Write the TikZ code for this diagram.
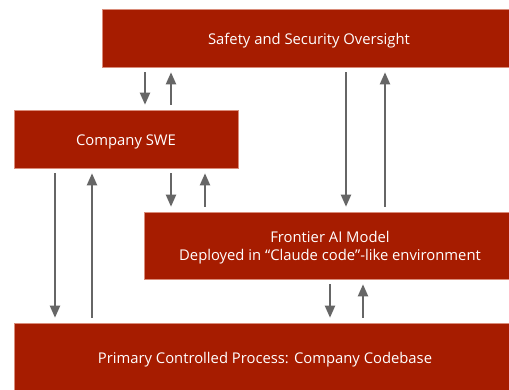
\documentclass[tikz,border=0pt]{standalone}
\usepackage{fontspec}
\setmainfont{Open Sans}
\usetikzlibrary{arrows.meta}
\definecolor{boxred}{HTML}{A61C00}
\definecolor{boxedge}{HTML}{D98C7A}
\definecolor{arrgray}{HTML}{666666}
\begin{document}
\begin{tikzpicture}[x=1pt,y=-1pt,
  box/.style={rectangle, fill=boxred, draw=boxedge, line width=0.6pt, inner sep=0pt},
  txt/.style={text=white, font=\fontsize{14.8}{18}\selectfont, align=center, inner sep=0pt},
  arr/.style={draw=arrgray, line width=2pt, -{Triangle[width=10pt,length=12pt]}, shorten >=5pt, shorten <=5pt}]
\useasboundingbox (0,0) rectangle (509,389);
\node[box, minimum width=414pt, minimum height=58pt] (safety) at (309,38) {};
\node[box, minimum width=224pt, minimum height=58pt] (swe) at (126,139) {};
\node[box, minimum width=372pt, minimum height=67pt] (frontier) at (330,245.5) {};
\node[box, minimum width=502pt, minimum height=68pt] (primary) at (265,357) {};
\node[txt] (safetyT) at ([yshift=-2.5pt]safety.center) {Safety and Security Oversight};
\node[txt] (sweT) at ([yshift=-2.5pt]swe.center) {Company SWE};
\node[txt] (frontierT) at ([yshift=-2.5pt]frontier.center) {Frontier AI Model\\Deployed in “Claude code”-like environment};
\node[txt] (primaryT) at ([yshift=-2.5pt]primary.center) {Primary Controlled Process: Company Codebase};
\coordinate (xa) at (145,0);
\coordinate (xb) at (171,0);
\coordinate (xc) at (346,0);
\coordinate (xd) at (385,0);
\coordinate (xe) at (205,0);
\coordinate (xf) at (55,0);
\coordinate (xg) at (92,0);
\coordinate (xh) at (330,0);
\coordinate (xi) at (363,0);
\draw[arr] (safety.south -| xa) -- (swe.north -| xa);
\draw[arr] (swe.north -| xb) -- (safety.south -| xb);
\draw[arr] (safety.south -| xc) -- (frontier.north -| xc);
\draw[arr] (frontier.north -| xd) -- (safety.south -| xd);
\draw[arr] (swe.south -| xb) -- (frontier.north -| xb);
\draw[arr] (frontier.north -| xe) -- (swe.south -| xe);
\draw[arr] (swe.south -| xf) -- (primary.north -| xf);
\draw[arr] (primary.north -| xg) -- (swe.south -| xg);
\draw[arr] (frontier.south -| xh) -- (primary.north -| xh);
\draw[arr] (primary.north -| xi) -- (frontier.south -| xi);
\end{tikzpicture}
\end{document}
